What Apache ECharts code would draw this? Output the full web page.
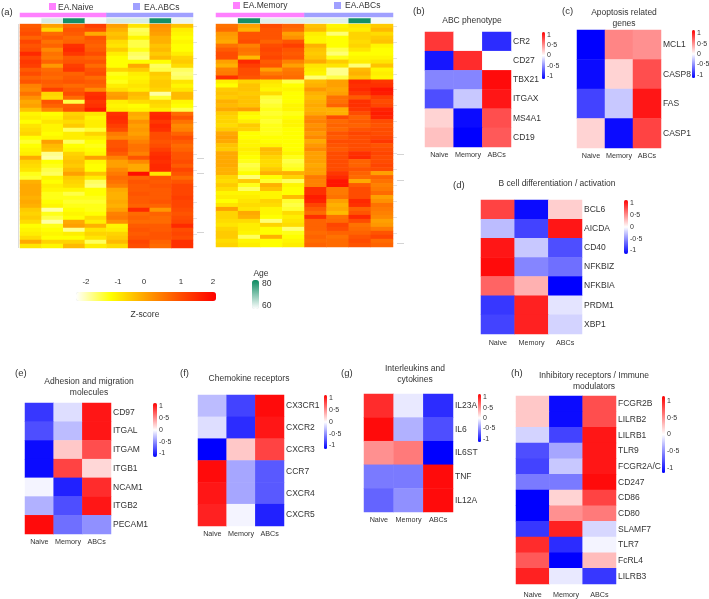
<!DOCTYPE html>
<html><head><meta charset="utf-8">
<style>html,body{margin:0;padding:0;background:#fff}#c{width:709px;height:599px}</style>
<script src="https://cdn.jsdelivr.net/npm/echarts@6/dist/echarts.min.js"></script>
</head><body><div id="c"></div>
<script>
const FONT = '"Liberation Sans", Arial, sans-serif';
const cols3 = ['Naive','Memory','ABCs'];
const samples = ['1','2','3','4','5','6','7','8'];
const barTicks = [1,0.5,0,-0.5,-1];
const barTickLabels = ['1','0·5','0','-0·5','-1'];
const zTicks = ['-2','-1','0','1','2'];

const groupsA = ['EA.Naive','EA.ABCs'];
const groupsB = ['EA.Memory','EA.ABCs'];
const groupCodes = [0,1];
const ageA = [58,62,81,59,62,62,81,60];
const ageB = [58,81,61,61,61,61,81,59];

const naiveVsAbcs = [
[.8,-.1,.7,1.2,-.1,-.9,.1,-.5],[.9,-.7,.9,1.0,-.3,-1.6,.0,-1.0],[1.0,.6,.8,-.2,-.5,-1.5,-.1,-1.1],[.7,.8,.6,.9,-.4,-1.1,-.3,-1.2],
[1.1,.5,.7,.8,-.8,-1.5,-.3,-1.1],[.9,.7,1.4,.7,-.9,-1.5,-.5,-1.2],[1.0,.2,1.5,.8,-.6,-1.3,-.4,-1.2],[1.5,.5,1.3,1.0,-1.0,-1.6,-.6,-1.0],
[1.1,.4,.8,.7,-1.2,-1.7,-.4,-.7],[1.3,.7,.9,.9,-1.2,-1.2,-1.2,-.6],[1.2,.0,1.2,.6,-1.2,-.2,-1.6,-.8],[.8,.6,1.3,.9,-.7,-.6,-1.5,-1.6],
[1.0,.7,.7,1.0,-1.3,-1.0,-.6,-1.7],[.7,.6,.8,.6,-1.2,-1.1,-.7,-1.6],[.9,.8,.9,.8,-1.3,-1.0,-.6,-.9],[.3,.7,.6,.7,-1.0,-.9,-.6,-1.1],
[.2,1.2,.8,.2,-.8,-1.0,-.7,-.9],[.5,-.7,1.0,1.4,-.1,-.4,-1.9,-.4],[.1,-.8,.6,1.5,.0,-.5,-1.4,-.4],[-.2,.9,-1.5,1.3,-1.0,-.8,-.7,-1.1],
[-.1,.7,.8,1.4,-1.1,-1.2,-.8,-1.2],[-.5,.2,.9,1.7,-1.0,-1.1,-1.0,-1.5],[-1.1,-1.2,-.7,-.9,1.4,-.2,1.5,.6],[-1.0,-1.1,-.6,-1.1,1.5,-.3,1.6,.9],
[-1.2,-.9,-.8,-1.0,1.4,.1,1.3,.5],[-.9,-1.1,-.6,-1.0,1.2,-.1,1.5,.2],[-.8,-1.1,-1.6,-1.4,1.0,.0,1.4,.3],[-.7,-1.2,-1.0,-.7,.4,-.1,1.0,.7],
[-1.2,-1.1,-1.0,-1.0,.2,.1,1.0,1.0],[-1.4,-.1,-1.6,-1.2,.9,.3,.9,.8],[-1.2,-.4,-1.2,-1.3,.9,.5,1.0,.6],[-1.1,-.5,-1.1,-1.2,1.0,.5,1.2,.7],
[-1.0,-1.8,-.7,-1.1,.8,.3,1.4,.9],[-.2,-1.9,-.6,-.1,.3,.9,1.5,.9],[-.7,-1.2,-.5,-1.1,-.1,.2,1.4,1.0],[-.8,-1.3,-.6,-1.2,-.1,-.2,1.5,.8],
[-.9,-1.5,-.4,-1.2,.2,-.2,1.5,1.1],[-1.3,-1.6,-.1,-.5,.4,1.9,-.9,.9],[-1.4,-1.1,-.6,-1.0,.6,.7,.9,.6],[-.3,-1.2,-.7,-1.6,.5,.9,.8,.9],
[-.2,-1.0,-.8,-1.7,.3,.8,.9,1.1],[-.2,-1.1,-1.1,-1.2,-.2,.8,.8,1.1],[-.2,-1.3,-1.5,-1.2,-.3,.9,.8,1.1],[-.3,-1.3,-1.3,-1.3,-.3,.8,.8,1.2],
[-.2,-1.2,-1.4,-1.4,-.2,.8,.9,1.1],[-.3,-1.1,-1.3,-1.3,-.3,.7,.7,1.1],[-.6,-1.9,-1.2,-1.3,-.1,1.5,.0,1.0],[-.7,-1.3,-1.1,-1.2,.3,.6,.7,.9],
[-.6,-1.5,-1.2,-.8,.4,.7,.6,1.0],[-.8,-1.9,-.2,-1.0,.1,.6,.6,1.1],[-1.2,-1.3,-.1,-.3,-1.1,.8,.8,1.5],[-1.1,-1.2,-1.8,-.9,-1.0,.9,.8,1.0],
[-1.0,-1.1,-1.0,-.7,-.7,.8,.9,1.1],[-.8,-1.2,-1.2,-.9,-.6,.9,.9,1.0],[-.2,-.7,-.7,-1.6,-.4,1.1,.7,1.4],[-.9,-1.1,-.4,-1.0,-.8,1.0,.6,1.4]
];
const memoryVsAbcs = [
[.5,-.1,1.0,.7,-.5,-1.1,-.9,-.6],[.6,-.3,.9,.6,-.4,-1.0,-1.0,-.4],[.0,.9,.9,-.1,-1.0,-1.7,-.7,-.8],[-.1,.9,.9,.1,-1.1,-1.2,-.7,-.6],
[-.2,1.0,.7,.9,-1.1,-1.2,-.8,-.5],[.5,.3,1.0,1.2,-.3,-1.2,-.7,-1.1],[.8,.5,1.1,.9,-.5,-1.5,-.9,-1.2],[1.0,.4,1.0,.8,-.6,-1.7,-1.2,-1.2],
[1.0,-.4,1.1,.9,-.5,-1.3,-1.1,-1.1],[-.1,1.5,.8,.3,-.2,-.6,-1.0,-.9],[-.3,1.2,.9,-.1,-.9,-.9,-1.7,-.5],[.3,1.0,-.1,.4,-1.0,-1.8,-.4,-1.1],
[.4,1.0,.4,.5,-1.1,-1.8,-.3,-1.0],[1.4,.9,.7,.6,-1.7,-1.5,-.5,-1.1],[-1.0,-.7,-.9,-1.5,-.4,-.1,1.5,1.3],[-1.2,-.5,-1.0,-1.2,-.3,-.1,1.4,1.4],
[-.6,-.5,-1.1,-1.1,.0,-.2,1.5,1.8],[-.5,-.6,-.8,-1.2,-.3,-.1,1.3,1.7],[-.6,-.5,-1.4,-1.2,-.4,.5,.8,1.2],[-.3,-.5,-1.5,-1.2,-.3,.5,1.4,1.0],
[-.4,-.5,-1.4,-1.1,-.2,.7,1.4,1.1],[-.2,-.1,-1.3,-1.1,-.3,-.3,1.3,1.6],[-.6,-1.1,-1.4,-1.3,-.2,-.3,1.0,1.7],[-.7,-1.2,-1.3,-1.2,.2,1.0,.7,1.6],
[-.7,-1.0,-1.4,-1.1,.3,.6,.8,1.0],[-.8,-.6,-1.3,-1.1,.1,.7,.7,.9],[-.6,-.7,-1.3,-1.2,.2,.6,.9,1.0],[-.2,-1.2,-1.3,-1.2,.0,.9,1.1,1.0],
[-.1,-1.2,-1.2,-1.2,.2,.8,1.0,1.1],[-.2,-1.1,-1.2,-1.2,-.2,1.0,1.0,1.3],[-.5,-1.1,-1.1,-1.2,.0,.9,1.0,.9],[-.6,-1.0,-.4,-1.2,.2,.8,1.0,1.0],
[-.2,-1.1,-.5,-1.1,-.1,1.0,1.4,1.1],[-.2,-1.2,-.7,-1.3,-.1,1.0,1.5,1.0],[-.2,-1.3,-.8,-1.5,-.1,1.0,.7,1.0],[-.2,-1.5,-.8,-1.4,-.2,1.0,.7,1.1],
[-.3,-1.4,-.6,-1.3,-.1,1.0,.9,1.0],[-.3,-1.2,-.3,-.3,-.1,1.3,.7,-.1],[-.7,-1.7,-1.2,-.7,.4,1.5,.6,.7],[-.8,-.6,-1.4,-1.6,.3,1.8,-.2,.5],
[-.6,-1.3,-.3,-1.1,.3,1.8,.8,.3],[-.8,-1.6,-.5,-1.2,1.4,.4,1.0,.4],[-1.1,-1.1,-1.1,-1.2,1.4,.4,1.0,.6],[-1.0,-1.0,-1.1,-.4,1.7,.5,1.0,-.1],
[-1.2,-.9,-.7,-1.4,1.6,-.1,1.5,.1],[-.9,-.8,-.8,-1.5,1.1,-.3,1.4,.5],[-.1,-.9,-1.1,-1.4,.8,-.2,.7,.4],[-.7,-.2,-1.1,-.8,.6,-.4,.9,.3],
[-.7,-.3,-1.2,-1.0,1.4,.5,1.5,.2],[-.8,-.8,-1.7,-.9,.7,.6,1.0,-.1],[-.9,-1.0,-.7,-.8,.7,1.1,.5,.0],[-.7,-1.0,-1.2,-1.7,.7,1.0,.6,.4],
[-.6,-1.1,-1.2,-1.3,.6,.7,.7,.9],[-.6,-1.6,-.3,-1.2,.7,.5,.9,1.1],[-.8,-1.1,-1.2,-1.1,.6,.6,1.0,.6],[-.7,-1.0,-1.2,-1.0,.7,.6,.9,.7]
];

const genesB = ['CR2','CD27','TBX21','ITGAX','MS4A1','CD19'];
const valsB = [[.9,0,-.95],[-1.05,.95,0],[-.55,-.55,1.1],[-.8,-.25,1.05],[.2,-1.1,.8],[.28,-1.15,.75]];
const genesC = ['MCL1','CASP8','FAS','CASP1'];
const valsC = [[-1.15,.55,.5],[-1.1,.2,.8],[-.85,-.25,1.05],[.2,-1.1,.85]];
const genesD = ['BCL6','AICDA','CD40','NFKBIZ','NFKBIA','PRDM1','XBP1'];
const valsD = [[.85,-1.1,.22],[-.3,-.85,1.05],[1.05,-.25,-.8],[1.1,-.55,-.65],[.7,.35,-1.15],[-.9,1,-.12],[-.85,1,-.2]];
const genesE = ['CD97','ITGAL','ITGAM','ITGB1','NCAM1','ITGB2','PECAM1'];
const valsE = [[-.9,-.15,1.05],[-.8,-.3,1.05],[-1.1,.25,.8],[-1.1,.85,.18],[-.05,-1,.95],[-.35,-.8,1.05],[1.1,-.65,-.5]];
const genesF = ['CX3CR1','CXCR2','CXCR3','CCR7','CXCR4','CXCR5'];
const valsF = [[-.3,-.85,1.1],[-.15,-.95,1.05],[-1.15,.25,.85],[1.1,-.4,-.75],[1.05,-.4,-.75],[1,-.05,-1]];
const genesG = ['IL23A','IL6','IL6ST','TNF','IL12A'];
const valsG = [[.95,-.1,-.95],[1.1,-.35,-.8],[.5,.6,-1.15],[-.6,-.6,1.1],[-.7,-.5,1.1]];
const genesH = ['FCGR2B','LILRB2','LILRB1','TLR9','FCGR2A/C','CD247','CD86','CD80','SLAMF7','TLR7','FcRL4','LILRB3'];
const valsH = [[.25,-1.1,.8],[.25,-1.1,.8],[-.2,-.85,1.05],[-.8,-.4,1.05],[-.85,-.25,1.05],[-.6,-.6,1.1],[-1.15,.2,.85],[-1.15,.5,.6],[-.9,1,-.18],[.95,-.95,-.05],[.75,-1.15,.3],[1,-.1,-.9]];

const panels = [
 {g:genesB,v:valsB,x:425,y:32,w:86,h:115,bx:542,by:32,bw:3,bh:47,m:5,name:'ABC phenotype'},
 {g:genesC,v:valsC,x:577,y:30,w:84,h:118,bx:692,by:30,bw:3,bh:48,m:5,name:'Apoptosis related genes'},
 {g:genesD,v:valsD,x:481,y:200,w:101,h:134,bx:624,by:200,bw:4,bh:54,m:6,name:'B cell differentiation / activation'},
 {g:genesE,v:valsE,x:25,y:403,w:86,h:131,bx:153,by:403,bw:4,bh:54,m:5,name:'Adhesion and migration molecules'},
 {g:genesF,v:valsF,x:198,y:395,w:86,h:131,bx:324,by:395,bw:3,bh:54,m:5,name:'Chemokine receptors'},
 {g:genesG,v:valsG,x:364,y:394,w:89,h:118,bx:478,by:394,bw:3,bh:48,m:5,name:'Interleukins and cytokines'},
 {g:genesH,v:valsH,x:516,y:396,w:100,h:188,bx:662,by:396,bw:3,bh:77,m:8,name:'Inhibitory receptors / Immune modulators'}
];
const TC = '#333';
const grid=[],xAxis=[],yAxis=[],series=[],visualMap=[],graphic=[],title=[];
function txt(text,x,y,size,align){
  graphic.push({type:'text',silent:true,x:x,y:y,style:{text:text,font:size+'px '+FONT,fill:TC,textAlign:align||'left',textVerticalAlign:'middle'}});
}
function head(text,x,y,size,align,lh){
  title.push({text:text,left:x,top:y,padding:0,textAlign:align||'left',textStyle:{fontFamily:FONT,fontSize:size,fontWeight:'normal',color:TC,lineHeight:lh||size+2}});
}
function addGrid(x,y,w,h,xs,ys,xopt,yopt){
  const i=grid.length;
  grid.push({left:x,top:y,width:w,height:h,containLabel:false});
  xAxis.push(Object.assign({type:'category',gridIndex:i,data:xs,axisLine:{show:false},axisTick:{show:false},axisLabel:{show:false},splitLine:{show:false}},xopt||{}));
  yAxis.push(Object.assign({type:'category',gridIndex:i,data:ys,inverse:true,axisLine:{show:false},axisTick:{show:false},axisLabel:{show:false},splitLine:{show:false}},yopt||{}));
  return i;
}
function cells(m){const d=[];m.forEach((r,y)=>r.forEach((v,x)=>d.push([x,y,v])));return d;}
function addSeries(i,name,m){
  series.push({type:'heatmap',name:name,xAxisIndex:i,yAxisIndex:i,data:cells(m),itemStyle:{borderWidth:0},emphasis:{disabled:true},progressive:0,animation:false});
  return series.length-1;
}

panels.forEach(p=>{
  const i=addGrid(p.x,p.y,p.w,p.h,cols3,p.g,
    {axisLabel:{show:true,interval:0,hideOverlap:false,fontFamily:FONT,fontSize:7.2,color:TC,margin:p.m}},
    {position:'right',axisLabel:{show:true,fontFamily:FONT,fontSize:8.5,color:TC,margin:2,interval:0}});
  const s=addSeries(i,p.name,p.v);
  visualMap.push({type:'continuous',seriesIndex:s,min:-1.15,max:1.15,calculable:false,hoverLink:false,realtime:false,padding:0,left:p.bx,top:p.by,itemWidth:p.bw,itemHeight:p.bh,text:null,showLabel:false,inRange:{color:['#0000ff','#ffffff','#ff0000']},orient:'vertical'});
  barTicks.forEach((t,k)=>txt(barTickLabels[k],p.bx+p.bw+2,p.by+(1.15-t)/2.3*p.bh,7));
});

// large heatmaps
const rowsIdx = naiveVsAbcs.map((_,k)=>String(k));
const tickY = {position:'right',axisTick:{show:true,length:4,alignWithLabel:true,lineStyle:{color:'#e2e2e2',width:1}}};
const iA=addGrid(20,24,173,224,samples,rowsIdx,null,tickY);
const iB=addGrid(216,24,177,223,samples,rowsIdx,null,tickY);
const sA=addSeries(iA,'EA.Naive vs EA.ABCs',naiveVsAbcs);
const sB=addSeries(iB,'EA.Memory vs EA.ABCs',memoryVsAbcs);
const gA=addGrid(20,13,173,4,groupsA,['group']);
const gB=addGrid(216,13,177,4,groupsB,['group']);
const s1=addSeries(gA,'groupsA',[groupCodes]);
const s2=addSeries(gB,'groupsB',[groupCodes]);
const aA=addGrid(20,18.5,173,4.5,samples,['age']);
const aB=addGrid(216,18.5,177,4.5,samples,['age']);
const s3=addSeries(aA,'ageA',[ageA]);
const s4=addSeries(aB,'ageB',[ageB]);

visualMap.push({type:'continuous',seriesIndex:[sA,sB],min:-2.3,max:2.1,orient:'horizontal',calculable:false,hoverLink:false,realtime:false,padding:0,left:76,top:292,itemWidth:9,itemHeight:140,text:null,
  inRange:{color:['#ffffff','#ffff00','#ffa000','#ff4c00','#ff0000']}});
visualMap.push({type:'continuous',seriesIndex:[s3,s4],min:58,max:82,orient:'vertical',calculable:false,hoverLink:false,realtime:false,padding:0,left:252,top:280,itemWidth:7,itemHeight:29,text:null,
  inRange:{color:['#ffffff','#0a8a60']}});
visualMap.push({show:false,type:'continuous',seriesIndex:[s1,s2],min:0,max:1,inRange:{color:['#ff80ff','#a0a0ff']}});

// legends above the big heatmaps
function sq(x,y,c){graphic.push({type:'rect',silent:true,shape:{x:x,y:y,width:7,height:7},style:{fill:c}});}
sq(49,3,'#ff80ff'); txt('EA.Naive',58,8,8.5);
sq(133,3,'#a0a0ff'); txt('EA.ABCs',144,8,8.5);
sq(233,2,'#ff80ff'); txt('EA.Memory',243,6,8.5);
sq(334,2,'#a0a0ff'); txt('EA.ABCs',345,6,8.5);
graphic.push({type:'rect',silent:true,shape:{x:18,y:24,width:1,height:224},style:{fill:'#ddd'}});
[[197,158],[197,173],[197,232],[397,154],[397,180],[397,243]].forEach(a=>{
  graphic.push({type:'rect',silent:true,shape:{x:a[0],y:a[1],width:7,height:1},style:{fill:'#d4d4d4'}});
});

// z-score and age keys
[[86,zTicks[0]],[118,zTicks[1]],[144,zTicks[2]],[181,zTicks[3]],[213,zTicks[4]]].forEach(a=>txt(a[1],a[0],282,8,'center'));
txt('Z-score',145,315,8.5,'center');
txt('Age',261,274,8.5,'center');
txt('80',262,284,8.5);
txt('60',262,306,8.5);

// titles
head('(a)',1,7,9.5);
head('(b)',413,6,9.5);
head('(c)',562,6,9.5);
head('(d)',453,180,9.5);
head('(e)',15,368,9.5);
head('(f)',180,368,9.5);
head('(g)',341,368,9.5);
head('(h)',511,368,9.5);
head('ABC phenotype',472,15,8.5,'center');
head('Apoptosis related\ngenes',624,7,8.5,'center',11);
head('B cell differentiation / activation',557,178,8.5,'center');
head('Adhesion and migration\nmolecules',89,376,8.5,'center',11);
head('Chemokine receptors',249,373,8.5,'center');
head('Interleukins and\ncytokines',415,363,8.5,'center',11);
head('Inhibitory receptors / Immune\nmodulators',594,370,8.5,'center',11);

const chart=echarts.init(document.getElementById('c'),null,{renderer:'canvas'});
chart.setOption({animation:false,backgroundColor:'#fff',tooltip:{show:false},title,grid,xAxis,yAxis,series,visualMap,graphic});
</script></body></html>
